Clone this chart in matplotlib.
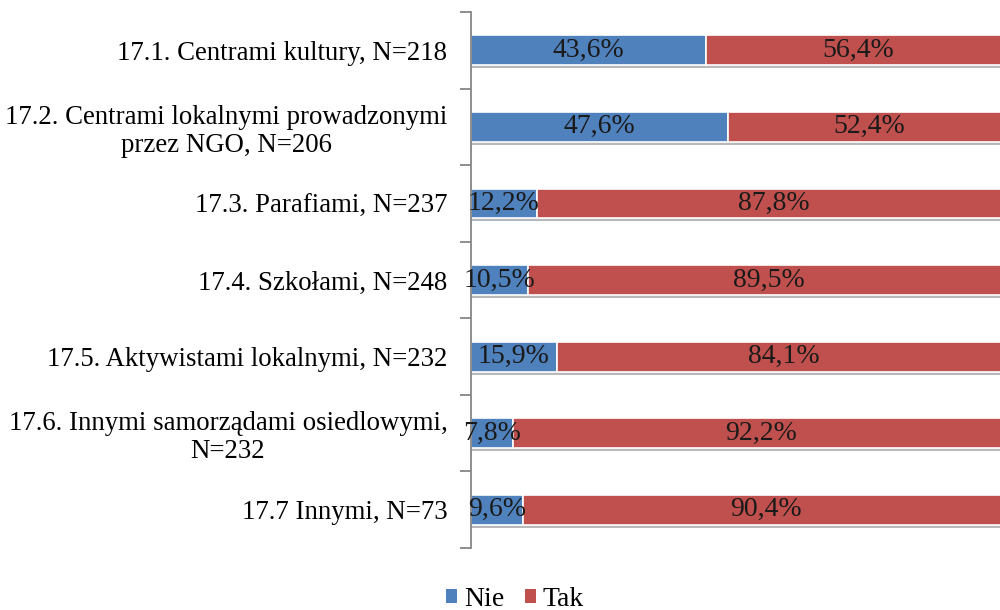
import matplotlib
matplotlib.use("Agg")
import matplotlib.pyplot as plt
import matplotlib.patheffects as pe
import numpy as np

categories = [
    "17.1. Centrami kultury, N=218",
    "17.2. Centrami lokalnymi prowadzonymi\nprzez NGO, N=206",
    "17.3. Parafiami, N=237",
    "17.4. Szkołami, N=248",
    "17.5. Aktywistami lokalnymi, N=232",
    "17.6. Innymi samorządami osiedlowymi,\nN=232",
    "17.7 Innymi, N=73",
]
nie = [43.6, 47.6, 12.2, 10.5, 15.9, 7.8, 9.6]
tak = [56.4, 52.4, 87.8, 89.5, 84.1, 92.2, 90.4]
series_names = ["Nie", "Tak"]
colors = ["#4F81BD", "#C0504D"]

plt.rcParams['font.family'] = ['Liberation Serif', 'DejaVu Serif']
FS = 20
FS_CAT = 19.3

fig = plt.figure(figsize=(10, 6.1), dpi=100)
ax = fig.add_axes([0.471, 0.1016, 0.539, 0.8787])

y = np.arange(len(categories))
shadow = [pe.SimplePatchShadow(offset=(0, -2.2), shadow_rgbFace='#7f7f7f', alpha=0.55), pe.Normal()]
b1 = ax.barh(y, nie, height=0.39, color=colors[0], edgecolor='white', linewidth=1.2,
             label=series_names[0], path_effects=shadow)
b2 = ax.barh(y, tak, left=nie, height=0.39, color=colors[1], edgecolor='white', linewidth=1.2,
             label=series_names[1], path_effects=shadow)

def fmt(v):
    return f"{v:.1f}%".replace('.', ',')

for i in range(len(categories)):
    ax.text(nie[i] / 2, y[i], fmt(nie[i]), ha='center', va='center', fontsize=FS, color='#1a1a1a')
    ax.text(nie[i] + tak[i] / 2, y[i], fmt(tak[i]), ha='center', va='center', fontsize=FS, color='#1a1a1a')

ax.set_xlim(0, 100)
ax.set_ylim(len(categories) - 0.5, -0.5)

ax.set_yticks(np.arange(-0.5, len(categories), 1.0))
ax.set_yticklabels([])
ax.set_yticks(y, minor=True)
ax.set_yticklabels(categories, minor=True, fontsize=FS_CAT, ha='right', multialignment='center',
                   linespacing=1.15)
ax.tick_params(axis='y', which='minor', length=0, pad=17)
ax.tick_params(axis='y', which='major', length=8, direction='out', color='#868686', width=1.3)
ax.set_xticks([])

for s in ['top', 'right', 'bottom']:
    ax.spines[s].set_visible(False)
ax.spines['left'].set_color('#868686')
ax.spines['left'].set_linewidth(1.3)

leg = fig.legend(handles=[b1, b2], labels=series_names, loc='center', bbox_to_anchor=(0.515, 0.018),
                 ncol=2, frameon=False, fontsize=FS, handlelength=0.4, handleheight=0.4,
                 handletextpad=0.25, columnspacing=0.75)
for h in leg.legend_handles:
    h.set_path_effects([])
    h.set_edgecolor('none')

fig.savefig("out.png", dpi=100)
